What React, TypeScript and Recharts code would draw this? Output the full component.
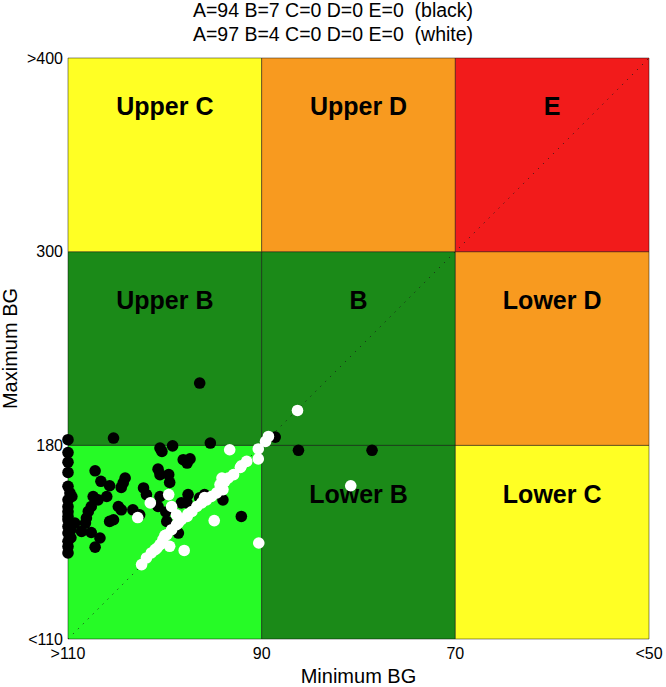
import {
  Label,
  ReferenceArea,
  ReferenceLine,
  Scatter,
  ScatterChart,
  XAxis,
  YAxis,
} from "recharts";

// CVGA grid: columns by minimum BG, rows by maximum BG
const xTickLabels = [">110", "90", "70", "<50"];
const yTickLabels = ["<110", "180", "300", ">400"];
const gridTicks = [0, 1, 2, 3];

const titleLines = [
  "A=94 B=7 C=0 D=0 E=0  (black)",
  "A=97 B=4 C=0 D=0 E=0  (white)",
];

// zones listed bottom row first, left column first
const zoneNames = [
  ["A", "Lower B", "Lower C"],
  ["Upper B", "B", "Lower D"],
  ["Upper C", "Upper D", "E"],
];
const zoneColors = [
  ["#26fb26", "#1b8a18", "#ffff24"],
  ["#1b8a18", "#1b8a18", "#f89a1f"],
  ["#ffff24", "#f89a1f", "#f21b1b"],
];

// [minimum BG, maximum BG] per subject
const blackPoints: [number, number][] = [
  [96.4, 218.6], [105.3, 184.5], [110, 183.5], [95.3, 181.4], [88.6, 185.1],
  [86.2, 178.2], [78.6, 178.2], [110, 177.4], [100.5, 179.0], [100.3, 177.8],
  [99.2, 179.8], [110, 173.9], [110, 170.2], [107.2, 170.8], [106.6, 167.0],
  [105.7, 165.4], [104.1, 168.2], [104.3, 166.4], [104.5, 164.8], [100.7, 171.4],
  [100.5, 169.4], [99.6, 169.4], [99.5, 166.6], [98.1, 174.8], [97.7, 173.6],
  [97.4, 175.1], [102.2, 164.6], [101.9, 162.2], [110, 165.2], [109.8, 162.8],
  [109.6, 161.5], [107.4, 161.5], [106.9, 160.3], [107.9, 156.1], [107.6, 157.9],
  [106.0, 161.5], [104.8, 157.9], [104.5, 156.7], [103.3, 156.7], [102.6, 154.9],
  [100.5, 161.5], [100.7, 157.9], [99.9, 155.9], [99.8, 152.5], [98.3, 159.2],
  [97.6, 162.2], [97.7, 159.2], [96.4, 161.0], [95.9, 162.2], [94.0, 160.3],
  [92.1, 154.3], [108.1, 153.7], [108.2, 151.9], [105.7, 152.5], [105.3, 153.1],
  [110, 160.3], [110, 157.9], [110, 156.0], [110, 154.3], [110, 153.1],
  [110, 150.7], [110, 148.3], [110, 145.3], [110, 143.4], [110, 141.1],
  [109.3, 151.9], [108.6, 148.9], [107.6, 148.5], [106.7, 146.5], [107.2, 143.2],
  [98.6, 148.3], [109.7, 149.5], [109.7, 146.6],
];

const whitePoints: [number, number][] = [
  [86.3, 201.6], [89.3, 185.5], [89.6, 182.4], [90.35, 178.7], [90.35, 175.1],
  [93.3, 178.4], [91.55, 174.2], [92.1, 172.6], [92.9, 169.4], [93.45, 168.2],
  [94.1, 168.2], [94.3, 165.8], [94.0, 164.0], [94.65, 162.8], [95.2, 161.5],
  [95.7, 160.3], [96.2, 159.2], [96.7, 157.9], [97.2, 156.1], [97.7, 154.3],
  [98.3, 153.1], [98.8, 151.3], [99.3, 149.5], [99.8, 147.7], [100.2, 145.9],
  [100.5, 144.1], [100.8, 142.9], [101.4, 141.1], [101.9, 139.3], [102.4, 136.9],
  [99.6, 162.2], [101.5, 159.2], [99.3, 157.9], [98.8, 154.9], [102.8, 153.9],
  [94.9, 152.8], [90.3, 144.7], [98.0, 142.0], [99.5, 143.5], [80.8, 165.4],
  [97.6, 155.2], [98.6, 152.0], [100.0, 147.4], [101.0, 142.3], [95.9, 161.1],
  [93.8, 167.0], [92.2, 172.0],
];

const FONT = "'Liberation Sans', Arial, Helvetica, sans-serif";

// min BG: 110 -> 90 -> 70 -> 50 maps to 0..3
const toGx = (minBG: number) => Math.max(0, Math.min(3, (110 - minBG) / 20));
// max BG: 110 -> 180 -> 300 -> 400 maps to 0..3
const toGy = (maxBG: number) => {
  if (maxBG <= 110) return 0;
  if (maxBG <= 180) return (maxBG - 110) / 70;
  if (maxBG <= 300) return 1 + (maxBG - 180) / 120;
  return Math.min(3, 2 + (maxBG - 300) / 100);
};

const toGrid = (pts: [number, number][]) =>
  pts.map(([mn, mx]) => ({ gx: toGx(mn), gy: toGy(mx) }));

const blackData = toGrid(blackPoints);
const whiteData = toGrid(whitePoints);

const zoneLabelData = zoneNames.flatMap((row, r) =>
  row.map((name, c) => ({ gx: c + 0.5, gy: r + 0.75, name }))
).filter((z) => z.name !== "A");

const dot = (fill: string) => (props: any) => (
  <circle cx={props.cx} cy={props.cy} r={5.8} fill={fill} />
);

const zoneText = (props: any) => (
  <text
    x={props.cx}
    y={props.cy}
    dy="0.36em"
    textAnchor="middle"
    fontFamily={FONT}
    fontWeight="bold"
    fontSize={25}
    fill="#000"
  >
    {props.payload.name}
  </text>
);

const xLabel = ({ viewBox }: any) => (
  <text
    x={viewBox.x + viewBox.width / 2}
    y={683}
    textAnchor="middle"
    fontFamily={FONT}
    fontSize={20}
    fill="#000"
  >
    Minimum BG
  </text>
);

const yLabel = ({ viewBox }: any) => {
  const cx = 10;
  const cy = viewBox.y + viewBox.height / 2;
  return (
    <text
      x={cx}
      y={cy}
      transform={`rotate(-90, ${cx}, ${cy})`}
      textAnchor="middle"
      dominantBaseline="central"
      fontFamily={FONT}
      fontSize={20}
      fill="#000"
    >
      Maximum BG
    </text>
  );
};

export default function App() {
  return (
    <div
      style={{
        position: "absolute",
        left: 0,
        top: 0,
        width: 666,
        height: 687,
        background: "#fff",
      }}
    >
      <div
        style={{
          position: "absolute",
          left: 0,
          top: -2,
          width: 666,
          textAlign: "center",
          fontFamily: FONT,
          fontSize: 19.5,
          lineHeight: "24px",
          whiteSpace: "pre",
          color: "#000",
        }}
      >
        {titleLines.map((t) => (
          <div key={t}>{t}</div>
        ))}
      </div>
      <ScatterChart
        width={666}
        height={687}
        margin={{ top: 58, right: 17, bottom: 0, left: 0 }}
        style={{ position: "absolute", left: 0, top: 0 }}
      >
        <XAxis
          type="number"
          dataKey="gx"
          domain={[0, 3]}
          ticks={gridTicks}
          interval={0}
          tickFormatter={(v: number) => xTickLabels[v]}
          axisLine={false}
          tickLine={false}
          tickSize={7}
          tickMargin={2}
          height={48}
          tick={{ fontSize: 16, fill: "#000", fontFamily: FONT }}
        >
          <Label content={xLabel} />
        </XAxis>
        <YAxis
          type="number"
          dataKey="gy"
          domain={[0, 3]}
          ticks={gridTicks}
          interval={0}
          tickFormatter={(v: number) => yTickLabels[v]}
          axisLine={false}
          tickLine={false}
          tickSize={3}
          tickMargin={2}
          width={68}
          tick={{ fontSize: 16, fill: "#000", fontFamily: FONT }}
        >
          <Label content={yLabel} />
        </YAxis>
        {zoneColors.flatMap((row, r) =>
          row.map((color, c) => (
            <ReferenceArea
              key={`${r}-${c}`}
              x1={c}
              x2={c + 1}
              y1={r}
              y2={r + 1}
              fill={color}
              fillOpacity={1}
              stroke="#000"
              strokeOpacity={0.45}
              strokeWidth={1}
            />
          ))
        )}
        <ReferenceLine
          segment={[
            { x: 0, y: 0 },
            { x: 3, y: 3 },
          ]}
          stroke="#1a1a1a"
          strokeWidth={1}
          strokeDasharray="1 6"
        />
        <Scatter
          data={zoneLabelData}
          shape={zoneText}
          isAnimationActive={false}
        />
        <Scatter
          data={blackData}
          shape={dot("#000")}
          isAnimationActive={false}
        />
        <Scatter
          data={whiteData}
          shape={dot("#fff")}
          isAnimationActive={false}
        />
      </ScatterChart>
    </div>
  );
}
